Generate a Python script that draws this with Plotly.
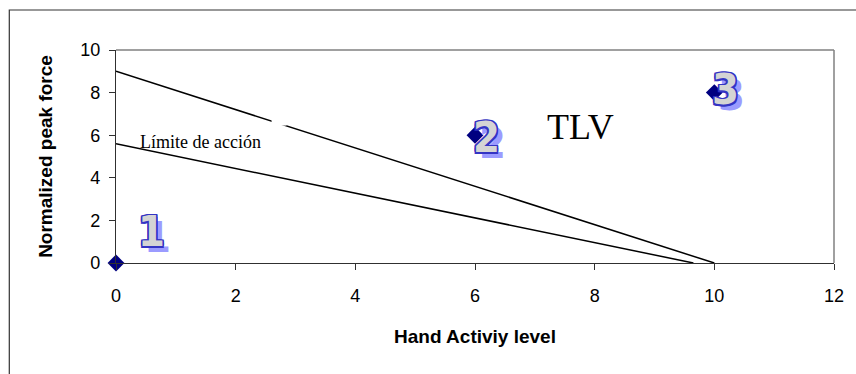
import plotly.graph_objects as go

# Observed exposures (hand activity level vs normalized peak force)
hal_points = [0, 6, 10]
npf_points = [0, 6, 8]
point_labels = ["1", "2", "3"]
label_x = [0.6, 6.2, 10.18]
label_y = [1.48, 5.9, 8.17]

# Threshold limit value line and action limit line
tlv_x = [0, 10]
tlv_y = [9, 0]
action_x = [0, 9.65]
action_y = [5.6, 0]

x_ticks = [0, 2, 4, 6, 8, 10, 12]
y_ticks = [0, 2, 4, 6, 8, 10]

W, H = 856, 374
L, R, T, B = 116, 20, 50, 111
pw, ph = W - L - R, H - T - B

fig = go.Figure()

fig.add_trace(go.Scatter(x=tlv_x, y=tlv_y, mode="lines",
                         line=dict(color="black", width=1.5), hoverinfo="skip"))
fig.add_trace(go.Scatter(x=action_x, y=action_y, mode="lines",
                         line=dict(color="black", width=1.5), hoverinfo="skip"))
fig.add_trace(go.Scatter(x=hal_points, y=npf_points, mode="markers",
                         marker=dict(symbol="diamond", size=13, color="#000080"),
                         cliponaxis=False))

# outlined, shadowed point numbers
outline = "#3434c4"
shadow = ("1.5px 0 0 {o}, -1.5px 0 0 {o}, 0 1.5px 0 {o}, 0 -1.5px 0 {o}, "
          "1.5px 1.5px 0 {o}, -1.5px -1.5px 0 {o}, 1.5px -1.5px 0 {o}, -1.5px 1.5px 0 {o}, "
          "6px 6px 0 #9b9bff").format(o=outline)
annotations = []
for t, x, y in zip(point_labels, label_x, label_y):
    annotations.append(dict(x=x, y=y, text=t, showarrow=False,
                            xanchor="center", yanchor="middle",
                            font=dict(family="DejaVu Sans Condensed", size=43,
                                      color="#d4d4d4", weight="bold", shadow=shadow)))

annotations.append(dict(x=7.77, y=6.37, text="TLV", showarrow=False,
                        xanchor="center", yanchor="middle",
                        font=dict(family="Liberation Serif", size=36, color="black")))
annotations.append(dict(x=0.37, y=5.67, text="Límite de acción", showarrow=False,
                        xanchor="left", yanchor="middle",
                        font=dict(family="Liberation Serif", size=18, color="black")))

shapes = [
    # empty text box sitting over the TLV line
    dict(type="rect", xref="x", yref="y", x0=2.6, x1=2.85, y0=6.45, y1=6.9,
         fillcolor="white", line=dict(width=0), layer="above"),
    # top and right frame of the plot area
    dict(type="line", xref="paper", yref="paper", x0=0, x1=1, y0=1, y1=1,
         line=dict(color="#808080", width=1.5)),
    dict(type="line", xref="paper", yref="paper", x0=1, x1=1, y0=0, y1=1,
         line=dict(color="#808080", width=1.5)),
    # chart border
    dict(type="rect", xref="paper", yref="paper",
         x0=(9 - L) / pw, x1=1.2, y0=-0.7, y1=(H - B - 10) / ph,
         line=dict(color="#333333", width=1.2), fillcolor="rgba(0,0,0,0)"),
]

fig.update_layout(
    width=W, height=H,
    margin=dict(l=L, r=R, t=T, b=B),
    paper_bgcolor="white", plot_bgcolor="white",
    showlegend=False,
    annotations=annotations,
    shapes=shapes,
    font=dict(family="Liberation Sans", color="black"),
)

fig.update_xaxes(range=[0, 12], tickvals=x_ticks, showgrid=False, zeroline=False,
                 showline=True, linecolor="#303030", linewidth=1.2,
                 ticks="outside", ticklen=6, tickcolor="#303030",
                 ticklabelstandoff=10,
                 tickfont=dict(size=18, family="Liberation Sans"),
                 title=dict(text="<b>Hand Activiy level</b>", standoff=24,
                            font=dict(size=19, family="Liberation Sans")))
fig.update_yaxes(range=[0, 10], tickvals=y_ticks, showgrid=False, zeroline=False,
                 showline=True, linecolor="#303030", linewidth=1.2,
                 ticks="outside", ticklen=6, tickcolor="#303030",
                 ticklabelstandoff=5,
                 tickfont=dict(size=18, family="Liberation Sans"),
                 title=dict(text="<b>Normalized peak force</b>", standoff=22,
                            font=dict(size=19, family="Liberation Sans")))

fig.write_html("out.html")
